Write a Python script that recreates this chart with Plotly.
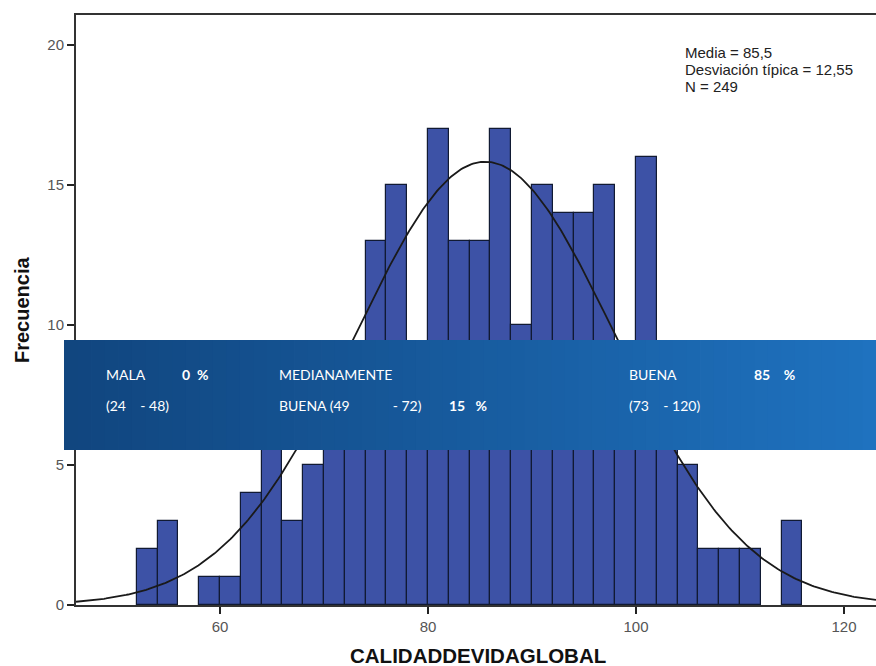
import numpy as np
import plotly.graph_objects as go

# ---- data ----
bin_starts = [52, 54, 56, 58, 60, 62, 64, 66, 68, 70, 72, 74, 76, 78, 80, 82, 84, 86,
              88, 90, 92, 94, 96, 98, 100, 102, 104, 106, 108, 110, 112, 114]
frequencies = [2, 3, 0, 1, 1, 4, 6, 3, 5, 7, 8, 13, 15, 9, 17, 13, 13, 17,
               10, 15, 14, 14, 15, 8, 16, 6, 5, 2, 2, 2, 0, 3]
bin_width = 2
mean_val = 85.5
std_val = 12.55
n_val = 249
x_ticks = [60, 80, 100, 120]
y_ticks = [0, 5, 10, 15, 20]

banner_groups = [
    {"name": "MALA", "pct": "0  %", "range": "(24    - 48)"},
    {"name": "MEDIANAMENTE", "pct": "15   %", "range": "BUENA (49            - 72)"},
    {"name": "BUENA", "pct": "85    %", "range": "(73    - 120)"},
]

# ---- figure ----
W, H = 876, 666
ml, mr, mt, mb = 76, 0, 15, 61
x_range = [46.15, 46.15 + (W - ml - mr) / 10.4]
y_range = [0, (H - mt - mb) / 28.0]

centers = [s + bin_width / 2 for s in bin_starts]
bar_line_w = [0 if f == 0 else 1.2 for f in frequencies]

fig = go.Figure()
fig.add_trace(go.Bar(
    x=centers, y=frequencies, width=bin_width,
    marker=dict(color="#3d52a6", line=dict(color="#111a33", width=bar_line_w)),
    hoverinfo="x+y", showlegend=False,
))

xc = np.linspace(x_range[0], x_range[1], 400)
yc = n_val * bin_width * np.exp(-0.5 * ((xc - mean_val) / std_val) ** 2) / (std_val * np.sqrt(2 * np.pi))
fig.add_trace(go.Scatter(x=xc, y=yc, mode="lines", line=dict(color="#1a1a1a", width=1.8),
                         showlegend=False, hoverinfo="skip"))


def px2paperx(px):
    return (px - ml) / (W - ml - mr)


def px2papery(py):
    return (H - mb - py) / (H - mt - mb)


# banner (gradient via stripes, paper coords)
c0 = np.array([17, 70, 127])
c1 = np.array([31, 114, 191])
bx0, bx1, by0, by1 = 64, 876, 340, 450
nstripes = 60
shapes = []
for i in range(nstripes):
    t = i / (nstripes - 1)
    c = (c0 + (c1 - c0) * t).astype(int)
    xa = bx0 + (bx1 - bx0) * i / nstripes
    xb = bx0 + (bx1 - bx0) * (i + 1) / nstripes + 0.8
    shapes.append(dict(type="rect", xref="paper", yref="paper",
                       x0=px2paperx(xa), x1=px2paperx(min(xb, bx1)),
                       y0=px2papery(by1), y1=px2papery(by0),
                       fillcolor=f"rgb({c[0]},{c[1]},{c[2]})", line=dict(width=0), layer="above"))

annotations = []
font_b = dict(family="Lato, Open Sans, sans-serif", size=14, color="white")
col_x = [104, 277, 627]
pct_x = [180, 447, 752]
for g, cx in zip(banner_groups, col_x):
    annotations.append(dict(x=px2paperx(cx), y=px2papery(374), xref="paper", yref="paper",
                            text=g["name"], showarrow=False, xanchor="left", yanchor="middle", font=font_b))
    annotations.append(dict(x=px2paperx(cx), y=px2papery(405), xref="paper", yref="paper",
                            text=g["range"], showarrow=False, xanchor="left", yanchor="middle", font=font_b))
pct_y = [374, 405, 374]
for g, pxp, py in zip(banner_groups, pct_x, pct_y):
    annotations.append(dict(x=px2paperx(pxp), y=px2papery(py), xref="paper", yref="paper",
                            text="<b>" + g["pct"] + "</b>", showarrow=False, xanchor="left",
                            yanchor="middle", font=font_b))

stats_lines = [f"Media = {str(mean_val).replace('.', ',')}",
               f"Desviación típica = {str(std_val).replace('.', ',')}",
               f"N = {n_val}"]
for line, py in zip(stats_lines, [53, 70, 86]):
    annotations.append(dict(x=px2paperx(683), y=px2papery(py), xref="paper", yref="paper",
                            text=line, showarrow=False, xanchor="left", yanchor="middle",
                            font=dict(family="Liberation Sans, Arial", size=15, color="#222")))

annotations.append(dict(x=px2paperx(478), y=px2papery(655), xref="paper", yref="paper",
                        text="<b>CALIDADDEVIDAGLOBAL</b>", showarrow=False, xanchor="center",
                        yanchor="middle",
                        font=dict(family="Liberation Sans, Arial", size=20.5, color="#111")))
annotations.append(dict(x=px2paperx(22), y=px2papery(310), xref="paper", yref="paper",
                        text="<b>Frecuencia</b>", showarrow=False, textangle=-90,
                        xanchor="center", yanchor="middle",
                        font=dict(family="Liberation Sans, Arial", size=20, color="#111")))

fig.update_layout(
    width=W, height=H,
    margin=dict(l=ml, r=mr, t=mt, b=mb),
    paper_bgcolor="white", plot_bgcolor="white",
    bargap=0,
    shapes=shapes, annotations=annotations,
    xaxis=dict(range=x_range, tickvals=x_ticks, ticks="outside", ticklen=7, tickwidth=1.5,
               tickcolor="#222", showgrid=False, zeroline=False, showline=True, linecolor="#333",
               linewidth=1.5, mirror=True,
               tickfont=dict(family="Liberation Sans, Arial", size=15, color="#555")),
    yaxis=dict(range=y_range, tickvals=y_ticks, ticks="outside", ticklen=7, tickwidth=1.5,
               tickcolor="#222", showgrid=False, zeroline=False, showline=True, linecolor="#333",
               linewidth=2,
               tickfont=dict(family="Liberation Sans, Arial", size=15, color="#555")),
)

fig.write_html("out.html", post_script="document.body.style.margin='0';",
               config={"displayModeBar": False})
